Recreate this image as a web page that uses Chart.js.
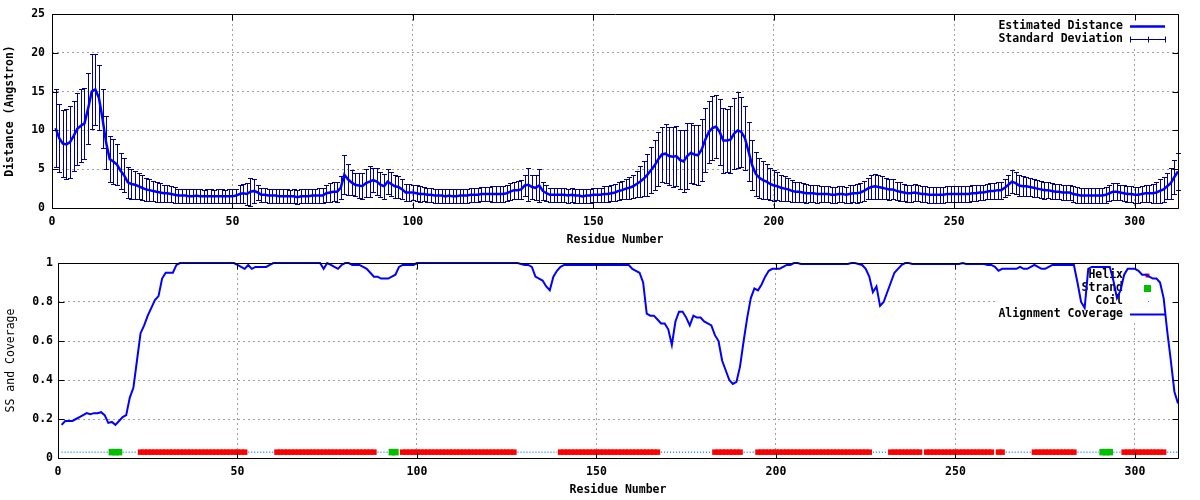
<!DOCTYPE html>
<html>
<head>
<meta charset="utf-8">
<script src="https://cdn.jsdelivr.net/npm/chart.js@4.4.1/dist/chart.umd.min.js"></script>
<style>
  body { margin: 0; background: #fff; }
  canvas { display: block; }
</style>
</head>
<body>
<canvas id="distChart" width="1200" height="250"></canvas>
<canvas id="ssChart" width="1200" height="250"></canvas>
<script>
// DATA
const residueCount = 312
const xTicks = [0, 50, 100, 150, 200, 250, 300]
const distTicks = [0, 5, 10, 15, 20, 25]
const covTicks = [0, 0.2, 0.4, 0.6, 0.8, 1]

// estimated distance per residue (Angstron)
const distMean = [
  10.3, 9.0, 8.3, 8.2, 8.5, 9.3, 10.2, 10.6, 10.9, 12.8,
  15.0, 15.3, 14.2, 11.5, 8.4, 6.3, 6.0, 5.6, 4.8, 4.2,
  3.3, 3.1, 3.0, 2.8, 2.6, 2.4, 2.3, 2.2, 2.1, 2.0,
  1.9, 1.9, 1.8, 1.7, 1.6, 1.6, 1.6, 1.5, 1.5, 1.6,
  1.5, 1.5, 1.5, 1.5, 1.5, 1.5, 1.5, 1.5, 1.5, 1.5,
  1.6, 1.8, 1.9, 1.8, 2.1, 2.2, 2.0, 1.7, 1.7, 1.6,
  1.6, 1.6, 1.5, 1.5, 1.5, 1.5, 1.5, 1.4, 1.5, 1.5,
  1.5, 1.6, 1.6, 1.6, 1.6, 1.9, 2.0, 2.1, 2.1, 2.6,
  4.3, 3.7, 3.3, 3.0, 2.9, 2.8, 3.2, 3.4, 3.6, 3.4,
  3.0, 2.8, 3.4, 3.1, 2.8, 2.7, 2.4, 2.0, 2.0, 2.0,
  1.9, 1.8, 1.8, 1.7, 1.7, 1.6, 1.6, 1.6, 1.5, 1.6,
  1.5, 1.5, 1.6, 1.6, 1.6, 1.7, 1.7, 1.7, 1.8, 1.8,
  1.8, 1.8, 1.8, 1.8, 1.8, 1.9, 2.1, 2.3, 2.3, 2.4,
  2.9, 3.0, 2.7, 2.6, 2.9, 2.2, 1.9, 1.7, 1.7, 1.7,
  1.7, 1.7, 1.6, 1.7, 1.6, 1.6, 1.5, 1.6, 1.6, 1.7,
  1.7, 1.7, 1.8, 1.8, 1.9, 2.0, 2.2, 2.3, 2.5, 2.6,
  2.8, 3.1, 3.4, 3.8, 4.3, 4.9, 5.5, 6.3, 6.9, 7.0,
  6.7, 6.6, 6.7, 6.2, 6.0, 6.7, 7.1, 6.9, 6.8, 7.5,
  8.8, 9.8, 10.3, 10.5, 9.8, 8.7, 8.7, 8.8, 9.6, 10.0,
  9.8, 9.0, 7.3, 5.5, 4.4, 3.9, 3.6, 3.4, 3.1, 2.9,
  2.8, 2.6, 2.5, 2.4, 2.2, 2.1, 2.1, 2.0, 1.9, 1.9,
  1.9, 1.8, 1.8, 1.8, 1.8, 1.7, 1.7, 1.8, 1.8, 1.7,
  1.8, 1.9, 1.9, 2.0, 2.2, 2.5, 2.7, 2.8, 2.7, 2.6,
  2.5, 2.4, 2.4, 2.2, 2.1, 2.0, 1.9, 1.9, 2.0, 1.9,
  1.8, 1.8, 1.7, 1.7, 1.7, 1.7, 1.7, 1.8, 1.8, 1.8,
  1.8, 1.8, 1.8, 1.8, 1.9, 1.9, 2.0, 2.0, 2.1, 2.2,
  2.2, 2.3, 2.3, 2.6, 3.0, 3.4, 3.2, 2.9, 2.8, 2.8,
  2.7, 2.6, 2.5, 2.4, 2.3, 2.3, 2.2, 2.1, 2.1, 2.0,
  2.0, 2.0, 1.8, 1.7, 1.6, 1.6, 1.6, 1.6, 1.6, 1.6,
  1.6, 1.7, 1.9, 2.1, 2.1, 2.0, 1.9, 1.8, 1.8, 1.7,
  1.7, 1.8, 1.9, 1.9, 1.9, 2.0, 2.2, 2.4, 2.8, 3.2,
  4.0, 4.7
]

// standard deviation per residue
const distSd = [
  5.0, 4.4, 4.3, 4.5, 4.6, 4.5, 4.6, 4.7, 4.6, 4.6,
  4.8, 4.6, 4.2, 3.8, 3.4, 3.0, 2.9, 2.6, 2.3, 2.2,
  2.0, 1.9, 1.8, 1.7, 1.6, 1.5, 1.4, 1.3, 1.3, 1.2,
  1.1, 1.1, 1.0, 1.0, 0.9, 0.9, 0.9, 0.9, 0.9, 0.9,
  0.9, 0.8, 0.9, 0.9, 0.8, 0.9, 0.9, 0.8, 0.9, 0.9,
  0.9, 1.1, 1.2, 1.4, 1.8, 1.5, 1.0, 0.9, 0.9, 0.9,
  0.9, 0.9, 0.9, 0.9, 0.9, 0.8, 0.9, 0.9, 0.9, 0.9,
  0.9, 0.9, 0.9, 1.0, 1.0, 1.1, 1.2, 1.2, 1.3, 1.5,
  2.5, 2.0, 1.6, 1.5, 1.6, 1.7, 1.8, 2.0, 1.6, 1.7,
  1.6, 1.6, 1.6, 1.5, 1.5, 1.4, 1.3, 1.1, 1.1, 1.0,
  1.0, 1.0, 0.9, 0.9, 0.9, 0.9, 0.9, 0.9, 0.9, 0.9,
  0.9, 0.9, 0.9, 0.9, 0.9, 0.9, 0.9, 0.9, 0.9, 0.9,
  0.9, 1.0, 1.0, 1.0, 1.0, 1.0, 1.1, 1.1, 1.2, 1.2,
  1.4, 2.1, 1.5, 1.6, 2.1, 1.2, 1.0, 0.9, 0.9, 0.9,
  0.9, 0.9, 0.9, 0.9, 0.9, 0.9, 0.9, 0.9, 0.9, 0.9,
  0.9, 0.9, 1.0, 1.0, 1.0, 1.1, 1.2, 1.2, 1.3, 1.4,
  1.5, 1.7, 2.0, 2.3, 2.7, 3.0, 3.2, 3.5, 3.6, 3.8,
  3.8, 3.9, 3.9, 3.8, 4.0, 4.2, 3.9, 3.8, 3.9, 4.0,
  4.1, 4.0, 4.1, 4.0, 4.3, 4.2, 4.0, 4.3, 4.6, 4.9,
  4.5, 4.1, 3.8, 3.2, 2.8, 2.6, 2.4, 2.3, 2.1, 2.0,
  1.8, 1.7, 1.6, 1.5, 1.4, 1.3, 1.3, 1.2, 1.2, 1.1,
  1.1, 1.1, 1.0, 1.0, 1.0, 1.0, 1.0, 1.0, 1.0, 1.0,
  1.1, 1.1, 1.2, 1.2, 1.3, 1.4, 1.6, 1.6, 1.5, 1.5,
  1.4, 1.4, 1.3, 1.2, 1.2, 1.1, 1.1, 1.1, 1.1, 1.0,
  1.0, 1.0, 1.0, 1.0, 1.0, 1.0, 1.0, 1.0, 1.0, 1.0,
  1.0, 1.0, 1.0, 1.0, 1.0, 1.0, 1.0, 1.0, 1.0, 1.0,
  1.0, 1.1, 1.1, 1.2, 1.3, 1.5, 1.4, 1.3, 1.3, 1.2,
  1.2, 1.2, 1.1, 1.1, 1.1, 1.0, 1.0, 1.0, 1.0, 1.0,
  1.0, 1.0, 1.0, 1.0, 1.0, 1.0, 1.0, 1.0, 1.0, 1.0,
  1.0, 1.0, 1.0, 1.1, 1.1, 1.0, 1.0, 1.0, 1.0, 1.0,
  1.0, 1.0, 1.1, 1.1, 1.2, 1.3, 1.5, 1.6, 1.7, 2.0,
  2.2, 2.4
]

// alignment coverage per residue
const coverage = [
  0.17, 0.19, 0.19, 0.19, 0.20, 0.21, 0.22, 0.23, 0.225, 0.23,
  0.23, 0.235, 0.22, 0.18, 0.185, 0.17, 0.19, 0.21, 0.22, 0.31,
  0.36, 0.50, 0.64, 0.68, 0.73, 0.77, 0.81, 0.83, 0.92, 0.95,
  0.95, 0.95, 0.99, 1.0, 1.0, 1.0, 1.0, 1.0, 1.0, 1.0,
  1.0, 1.0, 1.0, 1.0, 1.0, 1.0, 1.0, 1.0, 1.0, 0.99,
  0.98, 0.97, 0.99, 0.97, 0.98, 0.98, 0.98, 0.98, 0.99, 1.0,
  1.0, 1.0, 1.0, 1.0, 1.0, 1.0, 1.0, 1.0, 1.0, 1.0,
  1.0, 1.0, 1.0, 0.97, 1.0, 0.99, 0.98, 0.97, 0.99, 1.0,
  1.0, 0.99, 0.99, 0.99, 0.98, 0.97, 0.95, 0.93, 0.93, 0.92,
  0.92, 0.92, 0.93, 0.94, 0.98, 0.99, 0.99, 0.99, 0.99, 1.0,
  1.0, 1.0, 1.0, 1.0, 1.0, 1.0, 1.0, 1.0, 1.0, 1.0,
  1.0, 1.0, 1.0, 1.0, 1.0, 1.0, 1.0, 1.0, 1.0, 1.0,
  1.0, 1.0, 1.0, 1.0, 1.0, 1.0, 1.0, 1.0, 0.995, 0.99,
  0.99, 0.98, 0.93, 0.92, 0.91, 0.88, 0.86, 0.93, 0.96, 0.98,
  0.99, 0.99, 0.99, 0.99, 0.99, 0.99, 0.99, 0.99, 0.99, 0.99,
  0.99, 0.99, 0.99, 0.99, 0.99, 0.99, 0.99, 0.99, 0.99, 0.97,
  0.96, 0.95, 0.90, 0.74, 0.73, 0.73, 0.71, 0.69, 0.69, 0.66,
  0.58, 0.70, 0.75, 0.75, 0.72, 0.68, 0.73, 0.72, 0.72, 0.70,
  0.69, 0.68, 0.63, 0.60, 0.50, 0.45, 0.40, 0.38, 0.39, 0.47,
  0.60, 0.72, 0.82, 0.87, 0.86, 0.89, 0.93, 0.96, 0.97, 0.97,
  0.97, 0.98, 0.99, 0.99, 1.0, 1.0, 0.995, 0.995, 0.995, 0.995,
  0.995, 0.995, 0.995, 0.995, 0.995, 0.995, 0.995, 0.995, 0.995, 0.995,
  1.0, 1.0, 0.995, 0.99, 0.97, 0.93, 0.85, 0.88, 0.78, 0.80,
  0.85, 0.90, 0.95, 0.97, 0.99, 1.0, 1.0, 0.995, 0.995, 0.995,
  0.995, 0.995, 0.995, 0.995, 0.995, 0.995, 0.995, 0.995, 0.995, 0.995,
  0.995, 1.0, 0.995, 0.995, 0.995, 0.995, 0.995, 0.995, 0.99, 0.99,
  0.98, 0.96, 0.97, 0.97, 0.97, 0.97, 0.97, 0.98, 0.97, 0.97,
  0.98, 0.99, 0.98, 0.97, 0.97, 0.98, 0.99, 0.99, 0.99, 0.99,
  0.99, 0.99, 0.99, 0.90, 0.80, 0.77, 0.97, 0.98, 0.98, 0.98,
  0.98, 0.98, 0.98, 0.91, 0.82, 0.86, 0.94, 0.97, 0.97, 0.97,
  0.96, 0.94, 0.94, 0.93, 0.92, 0.92, 0.90, 0.82, 0.65, 0.50,
  0.34, 0.28
]

// secondary structure, residue ranges
const helixRanges = [[23, 52], [61, 88], [96, 127], [140, 167], [183, 190], [195, 226],
  [232, 240], [242, 260], [262, 263], [272, 283], [297, 308]]
const strandRanges = [[15, 17], [93, 94], [291, 293]]
const ssLevel = 0.03

const residues = Array.from({ length: residueCount }, (_, i) => i + 1)

inRanges = (r, ranges) => ranges.some(([a, b]) => r >= a && r <= b)

const FONT = '"DejaVu Sans Mono", monospace'
Chart.defaults.font.family = FONT
Chart.defaults.font.size = 11.5
Chart.defaults.font.weight = 'bold'
Chart.defaults.color = '#000'

// gnuplot style key, top right, opaque, text right aligned
const gnuKey = {
  id: 'gnuKey',
  beforeDatasetsDraw(chart, args, opts) {
    const ctx = chart.ctx, a = chart.chartArea
    const items = opts.items || []
    ctx.save()
    ctx.font = 'bold 11.5px ' + FONT
    const textRight = a.right - 55
    const w = Math.max(...items.map(it => ctx.measureText(it.label).width))
    ctx.fillStyle = '#fff'
    ctx.fillRect(textRight - w - 3, a.top + 1, a.right - textRight + w + 2, items.length * 13 + 5)
    items.forEach((it, i) => {
      const y = Math.round(a.top + 12 + i * 13) + 0.5
      ctx.fillStyle = '#000'
      ctx.textAlign = 'right'
      ctx.textBaseline = 'middle'
      ctx.fillText(it.label, textRight, y)
      const x1 = textRight + 7, x2 = textRight + 42, xm = (x1 + x2) / 2
      if (it.kind === 'line') {
        ctx.strokeStyle = it.color
        ctx.lineWidth = it.width
        ctx.beginPath(); ctx.moveTo(x1, y); ctx.lineTo(x2, y); ctx.stroke()
      } else if (it.kind === 'errbar') {
        ctx.strokeStyle = it.color
        ctx.lineWidth = 1
        ctx.beginPath()
        ctx.moveTo(x1, y); ctx.lineTo(x2, y)
        ;[x1, xm, x2].forEach(x => { x = Math.round(x) + 0.5; ctx.moveTo(x, y - 3); ctx.lineTo(x, y + 3) })
        ctx.stroke()
      } else if (it.kind === 'rect') {
        ctx.fillStyle = it.color
        ctx.fillRect(xm - it.size / 2, y - it.size / 2, it.size, it.size)
      } else if (it.kind === 'dot') {
        ctx.fillStyle = it.color
        ctx.fillRect(Math.round(xm), Math.round(y) - 1, 1, 1)
      }
    })
    ctx.restore()
  }
}

// full box border with inward ticks on all four sides
const gnuFrame = {
  id: 'gnuFrame',
  afterDraw(chart) {
    const ctx = chart.ctx, a = chart.chartArea
    const xs = chart.scales.x, ys = chart.scales.y
    const L = Math.round(a.left) + 0.5, R = Math.round(a.right) + 0.5
    const T = Math.round(a.top) + 0.5, B = Math.round(a.bottom) + 0.5
    ctx.save()
    ctx.strokeStyle = '#000'
    ctx.lineWidth = 1
    ctx.beginPath()
    ctx.rect(L, T, R - L, B - T)
    xs.ticks.forEach(t => {
      const x = Math.round(xs.getPixelForValue(t.value)) + 0.5
      ctx.moveTo(x, B); ctx.lineTo(x, B - 6)
      ctx.moveTo(x, T); ctx.lineTo(x, T + 6)
    })
    ys.ticks.forEach(t => {
      const y = Math.round(ys.getPixelForValue(t.value)) + 0.5
      ctx.moveTo(L, y); ctx.lineTo(L + 6, y)
      ctx.moveTo(R, y); ctx.lineTo(R - 6, y)
    })
    ctx.stroke()
    ctx.restore()
  }
}

// standard deviation bars drawn through the chart's scales
const errorBars = {
  id: 'errorBars',
  beforeDatasetsDraw(chart) {
    const ctx = chart.ctx, xs = chart.scales.x, ys = chart.scales.y
    ctx.save()
    ctx.strokeStyle = '#00008b'
    ctx.lineWidth = 1
    ctx.beginPath()
    residues.forEach((r, i) => {
      const x = Math.round(xs.getPixelForValue(r)) + 0.5
      const yLo = Math.round(ys.getPixelForValue(distMean[i] - distSd[i])) + 0.5
      const yHi = Math.round(ys.getPixelForValue(distMean[i] + distSd[i])) + 0.5
      ctx.moveTo(x, yLo); ctx.lineTo(x, yHi)
      ctx.moveTo(x - 2.5, yLo); ctx.lineTo(x + 2.5, yLo)
      ctx.moveTo(x - 2.5, yHi); ctx.lineTo(x + 2.5, yHi)
    })
    ctx.stroke()
    ctx.restore()
  }
}

makeScales = (yTicks, yMax, yTitle, yWidth, yTitleWeight, yPad, yTitlePad) => ({
  x: {
    type: 'linear', min: 0, max: residueCount,
    afterBuildTicks: s => { s.ticks = xTicks.map(v => ({ value: v })) },
    afterFit: s => { s.height = 42 },
    grid: { color: '#a0a0a0', lineWidth: 1, drawTicks: false },
    border: { display: false, dash: [2, 3] },
    ticks: { padding: 7, maxRotation: 0 },
    title: { display: true, text: 'Residue Number', padding: { top: 0, bottom: 3 } }
  },
  y: {
    type: 'linear', min: 0, max: yMax,
    afterBuildTicks: s => { s.ticks = yTicks.map(v => ({ value: v })) },
    afterFit: s => { s.width = yWidth },
    grid: { color: '#a0a0a0', lineWidth: 1, drawTicks: false },
    border: { display: false, dash: [2, 3] },
    ticks: { padding: yPad, callback: v => String(+v.toFixed(1)) },
    title: { display: true, text: yTitle, font: { weight: yTitleWeight }, padding: { top: yTitlePad, bottom: 0 } }
  }
})

// TOP: estimated distance
new Chart(document.getElementById('distChart'), {
  type: 'line',
  data: {
    datasets: [{
      label: 'Estimated Distance',
      data: residues.map((r, i) => ({ x: r, y: distMean[i] })),
      borderColor: '#0000ff',
      borderWidth: 2.5,
      pointRadius: 0,
      tension: 0,
      clip: 4
    }]
  },
  options: {
    responsive: false,
    animation: false,
    events: [],
    layout: { padding: { top: 14, right: 22, left: 0, bottom: 0 } },
    plugins: {
      legend: { display: false },
      tooltip: { enabled: false },
      gnuKey: {
        items: [
          { label: 'Estimated Distance', kind: 'line', color: '#0000ff', width: 2.5 },
          { label: 'Standard Deviation', kind: 'errbar', color: '#00008b' }
        ]
      }
    },
    scales: makeScales(distTicks, 25, 'Distance (Angstron)', 52, 'bold', 7, 3)
  },
  plugins: [gnuKey, errorBars, gnuFrame]
})

// BOTTOM: secondary structure and coverage
const helixPts = residues.filter(r => inRanges(r, helixRanges)).map(r => ({ x: r, y: ssLevel }))
const strandPts = residues.filter(r => inRanges(r, strandRanges)).map(r => ({ x: r, y: ssLevel }))
const coilPts = residues.map(r => ({ x: r, y: (inRanges(r, helixRanges) || inRanges(r, strandRanges)) ? null : ssLevel }))

new Chart(document.getElementById('ssChart'), {
  type: 'line',
  data: {
    datasets: [
      {
        label: 'Helix', data: helixPts, showLine: false, order: 3,
        pointStyle: 'rect', pointRadius: 3.9, backgroundColor: '#ff0000', borderWidth: 0
      },
      {
        label: 'Strand', data: strandPts, showLine: false, order: 2,
        pointStyle: 'rect', pointRadius: 4.6, backgroundColor: '#00c000', borderWidth: 0
      },
      {
        label: 'Coil', data: coilPts, order: 1, spanGaps: false,
        borderColor: '#1e90ff', borderWidth: 1.5, borderDash: [1, 2], pointRadius: 0
      },
      {
        label: 'Alignment Coverage', data: residues.map((r, i) => ({ x: r, y: coverage[i] })), order: 0,
        borderColor: '#0000ff', borderWidth: 2, pointRadius: 0, tension: 0, clip: 4
      }
    ]
  },
  options: {
    responsive: false,
    animation: false,
    events: [],
    layout: { padding: { top: 13, right: 22, left: 0, bottom: 0 } },
    plugins: {
      legend: { display: false },
      tooltip: { enabled: false },
      gnuKey: {
        items: [
          { label: 'Helix', kind: 'rect', color: '#ff0000', size: 4 },
          { label: 'Strand', kind: 'rect', color: '#00c000', size: 7 },
          { label: 'Coil', kind: 'dot', color: '#1e90ff' },
          { label: 'Alignment Coverage', kind: 'line', color: '#0000ff', width: 2 }
        ]
      }
    },
    scales: makeScales(covTicks, 1, 'SS and Coverage', 58, 'normal', 5, 4)
  },
  plugins: [gnuKey, gnuFrame]
})
</script>
</body>
</html>
